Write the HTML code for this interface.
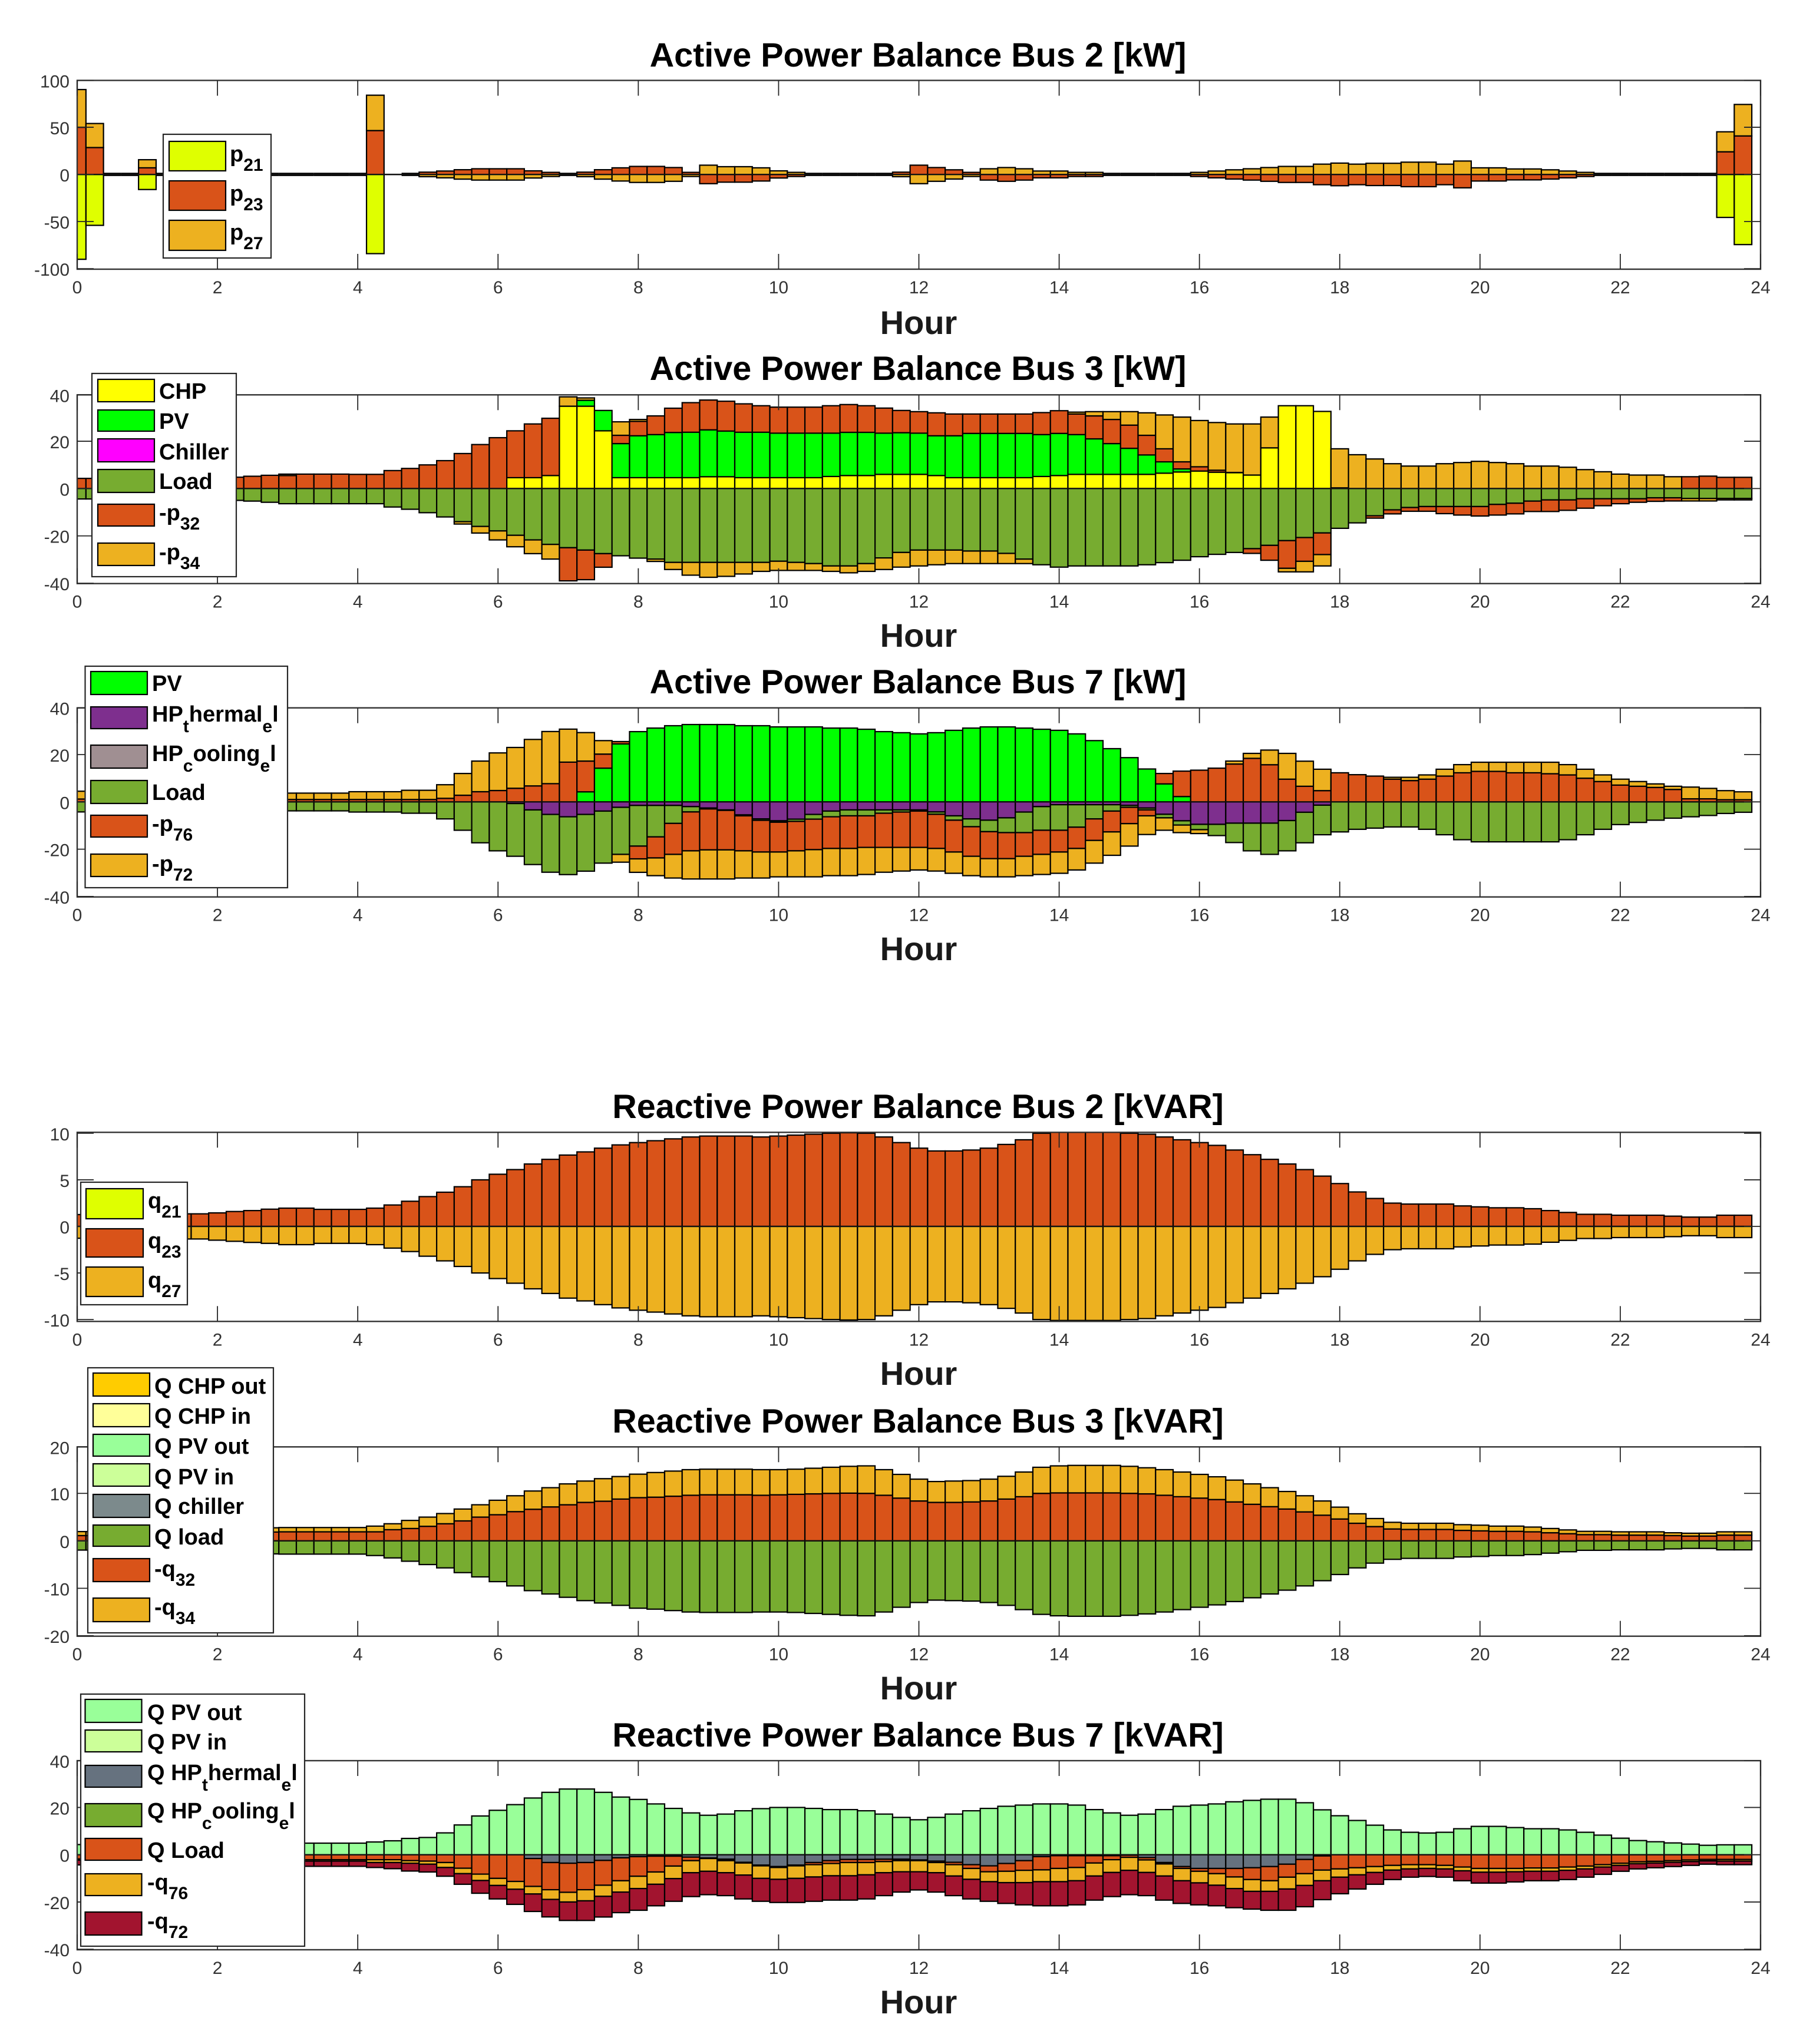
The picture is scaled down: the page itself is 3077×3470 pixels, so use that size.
<!DOCTYPE html>
<html lang="en">
<head>
<meta charset="utf-8">
<title>Power Balance Charts</title>
<style>
html,body{margin:0;padding:0;background:#fff;}
svg{display:block;}
text{font-family:"Liberation Sans",Arial,sans-serif;}
.ttl{font-size:57.5px;font-weight:bold;fill:#000;text-anchor:middle;}
.hour{font-size:56px;font-weight:bold;fill:#1a1a1a;text-anchor:middle;}
.lg{font-size:38px;font-weight:bold;fill:#000;}
.sub{font-size:30px;}
.lgbox{fill:#fff;stroke:#262626;stroke-width:2.2;}
.sw{stroke:#000;stroke-width:2.2;}
</style>
</head>
<body>
<svg id="chart" xmlns="http://www.w3.org/2000/svg" width="3077" height="3470" viewBox="0 0 3077 3470">
<rect x="0" y="0" width="3077" height="3470" fill="#fff"/>
<g id="plots"></g>

<text class="ttl" x="1558" y="113">Active Power Balance Bus 2 [kW]</text>
<text class="ttl" x="1558" y="645">Active Power Balance Bus 3 [kW]</text>
<text class="ttl" x="1558" y="1177">Active Power Balance Bus 7 [kW]</text>
<text class="ttl" x="1558" y="1898">Reactive Power Balance Bus 2 [kVAR]</text>
<text class="ttl" x="1558" y="2432">Reactive Power Balance Bus 3 [kVAR]</text>
<text class="ttl" x="1558" y="2965">Reactive Power Balance Bus 7 [kVAR]</text>

<text class="hour" x="1559" y="567">Hour</text>
<text class="hour" x="1559" y="1098">Hour</text>
<text class="hour" x="1559" y="1630">Hour</text>
<text class="hour" x="1559" y="2351">Hour</text>
<text class="hour" x="1559" y="2885">Hour</text>
<text class="hour" x="1559" y="3418">Hour</text>

<g>
<rect class="lgbox" x="277" y="228" width="183" height="210"/>
<rect class="sw" x="287" y="240" width="96" height="50" fill="#DFFF00"/>
<text class="lg" x="390" y="274">p<tspan class="sub" dy="16">21</tspan></text>
<rect class="sw" x="287" y="307" width="96" height="50" fill="#D95319"/>
<text class="lg" x="390" y="341">p<tspan class="sub" dy="16">23</tspan></text>
<rect class="sw" x="287" y="374" width="96" height="51" fill="#EDB120"/>
<text class="lg" x="390" y="407">p<tspan class="sub" dy="16">27</tspan></text>
</g>

<g>
<rect class="lgbox" x="156" y="634" width="245" height="345"/>
<rect class="sw" x="166" y="644" width="96" height="38" fill="#FFFF00"/>
<text class="lg" x="270" y="677">CHP</text>
<rect class="sw" x="166" y="696" width="96" height="36" fill="#00FF00"/>
<text class="lg" x="270" y="728">PV</text>
<rect class="sw" x="166" y="745" width="96" height="39" fill="#FF00FF"/>
<text class="lg" x="270" y="780">Chiller</text>
<rect class="sw" x="166" y="797" width="96" height="39" fill="#77AC30"/>
<text class="lg" x="270" y="830">Load</text>
<rect class="sw" x="166" y="856" width="96" height="37" fill="#D95319"/>
<text class="lg" x="270" y="883">-p<tspan class="sub" dy="16">32</tspan></text>
<rect class="sw" x="166" y="922" width="96" height="38" fill="#EDB120"/>
<text class="lg" x="270" y="950">-p<tspan class="sub" dy="16">34</tspan></text>
</g>

<g>
<rect class="lgbox" x="144.500" y="1131" width="343.500" height="376"/>
<rect class="sw" x="154" y="1140" width="96" height="39" fill="#00FF00"/>
<text class="lg" x="258" y="1173">PV</text>
<rect class="sw" x="154" y="1200" width="96" height="37" fill="#7E2F8E"/>
<text class="lg" x="258" y="1225">HP<tspan class="sub" dy="18">t</tspan><tspan dy="-18">hermal</tspan><tspan class="sub" dy="18">e</tspan><tspan dy="-18">l</tspan></text>
<rect class="sw" x="154" y="1265" width="96" height="39" fill="#A08F92"/>
<text class="lg" x="258" y="1292">HP<tspan class="sub" dy="18">c</tspan><tspan dy="-18">ooling</tspan><tspan class="sub" dy="18">e</tspan><tspan dy="-18">l</tspan></text>
<rect class="sw" x="154" y="1325" width="96" height="39" fill="#77AC30"/>
<text class="lg" x="258" y="1358">Load</text>
<rect class="sw" x="154" y="1384" width="96" height="37" fill="#D95319"/>
<text class="lg" x="258" y="1411">-p<tspan class="sub" dy="16">76</tspan></text>
<rect class="sw" x="154" y="1450" width="96" height="38" fill="#EDB120"/>
<text class="lg" x="258" y="1479">-p<tspan class="sub" dy="16">72</tspan></text>
</g>

<g>
<rect class="lgbox" x="137" y="2007" width="181" height="208"/>
<rect class="sw" x="146" y="2018" width="97" height="51" fill="#DFFF00"/>
<text class="lg" x="251" y="2051">q<tspan class="sub" dy="16">21</tspan></text>
<rect class="sw" x="146" y="2086" width="97" height="48" fill="#D95319"/>
<text class="lg" x="251" y="2119">q<tspan class="sub" dy="16">23</tspan></text>
<rect class="sw" x="146" y="2151" width="97" height="50" fill="#EDB120"/>
<text class="lg" x="251" y="2186">q<tspan class="sub" dy="16">27</tspan></text>
</g>

<g>
<rect class="lgbox" x="149" y="2322" width="315" height="450"/>
<rect class="sw" x="158" y="2331" width="96" height="39" fill="#FFCC00"/>
<text class="lg" x="262" y="2366">Q CHP out</text>
<rect class="sw" x="158" y="2383" width="96" height="39" fill="#FFFF99"/>
<text class="lg" x="262" y="2417">Q CHP in</text>
<rect class="sw" x="158" y="2435" width="96" height="37" fill="#99FF99"/>
<text class="lg" x="262" y="2468">Q PV out</text>
<rect class="sw" x="158" y="2485" width="96" height="38" fill="#CCFF99"/>
<text class="lg" x="262" y="2520">Q PV in</text>
<rect class="sw" x="158" y="2537" width="96" height="39" fill="#7C8A8C"/>
<text class="lg" x="262" y="2570">Q chiller</text>
<rect class="sw" x="158" y="2589" width="96" height="36" fill="#77AC30"/>
<text class="lg" x="262" y="2622">Q load</text>
<rect class="sw" x="158" y="2646" width="96" height="39" fill="#D95319"/>
<text class="lg" x="262" y="2676">-q<tspan class="sub" dy="16">32</tspan></text>
<rect class="sw" x="158" y="2713" width="96" height="40" fill="#EDB120"/>
<text class="lg" x="262" y="2741">-q<tspan class="sub" dy="16">34</tspan></text>
</g>

<g>
<rect class="lgbox" x="137" y="2876" width="380" height="428"/>
<rect class="sw" x="144.500" y="2885" width="96" height="39" fill="#99FF99"/>
<text class="lg" x="250" y="2920">Q PV out</text>
<rect class="sw" x="144.500" y="2937" width="96" height="37" fill="#CCFF99"/>
<text class="lg" x="250" y="2970">Q PV in</text>
<rect class="sw" x="144.500" y="2997" width="96" height="37" fill="#66727F"/>
<text class="lg" x="250" y="3022">Q HP<tspan class="sub" dy="18">t</tspan><tspan dy="-18">hermal</tspan><tspan class="sub" dy="18">e</tspan><tspan dy="-18">l</tspan></text>
<rect class="sw" x="144.500" y="3062" width="96" height="39" fill="#77AC30"/>
<text class="lg" x="250" y="3087">Q HP<tspan class="sub" dy="18">c</tspan><tspan dy="-18">ooling</tspan><tspan class="sub" dy="18">e</tspan><tspan dy="-18">l</tspan></text>
<rect class="sw" x="144.500" y="3121" width="96" height="37" fill="#D95319"/>
<text class="lg" x="250" y="3154">Q Load</text>
<rect class="sw" x="144.500" y="3181" width="96" height="37" fill="#EDB120"/>
<text class="lg" x="250" y="3208">-q<tspan class="sub" dy="16">76</tspan></text>
<rect class="sw" x="144.500" y="3246" width="96" height="39" fill="#A2142F"/>
<text class="lg" x="250" y="3274">-q<tspan class="sub" dy="16">72</tspan></text>
</g>
</svg>

<script>
/* ---------- categories and tick labels ---------- */
const barHours = [
0,0.25,0.5,0.75,1,1.25,1.5,1.75,2,2.25,2.5,2.75,
3,3.25,3.5,3.75,4,4.25,4.5,4.75,5,5.25,5.5,5.75,
6,6.25,6.5,6.75,7,7.25,7.5,7.75,8,8.25,8.5,8.75,
9,9.25,9.5,9.75,10,10.25,10.5,10.75,11,11.25,11.5,11.75,
12,12.25,12.5,12.75,13,13.25,13.5,13.75,14,14.25,14.5,14.75,
15,15.25,15.5,15.75,16,16.25,16.5,16.75,17,17.25,17.5,17.75,
18,18.25,18.5,18.75,19,19.25,19.5,19.75,20,20.25,20.5,20.75,
21,21.25,21.5,21.75,22,22.25,22.5,22.75,23,23.25,23.5,23.75];
const xTickLabels = [0,2,4,6,8,10,12,14,16,18,20,22,24];
const yTicksActive2 = [100,50,0,-50,-100];
const yTicksActive3 = [40,20,0,-20,-40];
const yTicksActive7 = [40,20,0,-20,-40];
const yTicksReactive2 = [10,5,0,-5,-10];
const yTicksReactive3 = [20,10,0,-10,-20];
const yTicksReactive7 = [40,20,0,-20,-40];
const zeroSeries = [];
for (let k = 0; k < barHours.length; k++) zeroSeries.push(0);

/* ---------- Active Power Balance Bus 2 ---------- */
const p21 = [
-90,-54,0,0,-16,0,0,0,0,0,0,0,
0,0,0,0,0,-84,0,0,0,0,0,0,
0,0,0,0,0,0,0,0,0,0,0,0,
0,0,0,0,0,0,0,0,0,0,0,0,
0,0,0,0,0,0,0,0,0,0,0,0,
0,0,0,0,0,0,0,0,0,0,0,0,
0,0,0,0,0,0,0,0,0,0,0,0,
0,0,0,0,0,0,0,0,0,0,-45.6,-74.4];
const p23 = [
50,28.5,0,0,7,0,0,0,0,0,0,0,
0,0,0,0,0,46.5,0.05,0,2.4,3.6,5,6,
6,6,3.8,2.2,0,2.4,5,7,8.5,8.5,7.3,2.2,
-9.8,-8.2,-8.2,-7,-3.8,-2.2,0,0,0,0,0,2.4,
9.8,7.3,4.9,2.2,-6,-7.3,-6,-3.6,-3.6,-2.2,-2.2,0,
0,0,0,0,-2.2,-3.6,-4.9,-6,-7.3,-8.5,-8.5,-10.9,
-12,-10.9,-11.8,-11.8,-13,-13,-10.9,-14.2,-7,-7,-5.8,-5.8,
-4.9,-3.6,-2.2,0,0,0,0,0,0,0,24,40.8];
const p27 = [
40,25.5,0,0,8.6,0,0,0,0,0,0,0,
0,0,0,0,0,37.5,-0.05,0,-2.4,-3.6,-5,-6,
-6,-6,-3.8,-2.2,0,-2.4,-5,-7,-8.5,-8.5,-7.3,-2.2,
9.8,8.2,8.2,7,3.8,2.2,0,0,0,0,0,-2.4,
-9.8,-7.3,-4.9,-2.2,6,7.3,6,3.6,3.6,2.2,2.2,0,
0,0,0,0,2.2,3.6,4.9,6,7.3,8.5,8.5,10.9,
12,10.9,11.8,11.8,13,13,10.9,14.2,7,7,5.8,5.8,
4.9,3.6,2.2,0,0,0,0,0,0,0,21.2,33.4];

/* ---------- Active Power Balance Bus 3 ---------- */
const chp3 = [
0,0,0,0,0,0,0,0,0,0,0,0,
0,0,0,0,0,0,0,0,0,0,0,0,
0,4.6,4.6,5.5,34.8,34.8,24.4,4.6,4.6,4.6,4.6,4.6,
5,5,4.6,4.6,4.6,4.6,4.6,5.1,5.5,5.5,6,6,
6,5.5,4.6,4.6,4.6,4.6,4.6,5.1,5.5,6,6,6,
6,6,6.5,7,7.4,6.9,6.7,5.7,17.2,35,35,32.6,
0.3,0,0,0,0,0,0,0,0,0,0,0,
0,0,0,0,0,0,0,0,0,0,0,0];
const pv3 = [
0,0,0,0,0,0,0,0,0,0,0,0,
0,0,0,0,0,0,0,0,0,0,0,0,
0,0,0,0,0,2.5,8.6,14.4,17.7,18.2,19.1,19.2,
19.8,19.3,19.2,19.2,18.8,18.8,18.8,18.3,18.25,18.25,17.4,17.6,
17.4,16.8,17.7,18.7,18.7,18.7,18.7,17.7,17.8,16.8,15,13,
11,8.2,4.8,1.3,0,0,0,0,0,0,0,0,
0,0,0,0,0,0,0,0,0,0,0,0,
0,0,0,0,0,0,0,0,0,0,0,0];
const load3 = [
-4.4,-4.4,-4.4,-4.3,-4.2,-4.2,-4.2,-4.3,-4.5,-5,-5.3,-5.8,
-6.4,-6.4,-6.4,-6.4,-6.4,-6.4,-7.8,-8.75,-10.2,-12,-14,-16,
-17.9,-19.75,-21.7,-23.6,-25,-26,-27.5,-28.4,-29.4,-29.8,-31.2,-31.2,
-31.2,-31.2,-31.2,-31.2,-30.7,-31.2,-31.7,-32.7,-32.7,-31.7,-29.3,-27,
-26,-26,-26,-26.4,-26.4,-27.4,-29.8,-32.2,-33.2,-32.7,-32.7,-32.7,
-32.7,-32.2,-31.3,-30.3,-28.8,-27.8,-27,-25.4,-24,-22,-20.7,-18.75,
-16.8,-14.5,-11.5,-9,-8,-7.6,-7.6,-7.6,-7.6,-6.7,-6.2,-5.3,
-4.8,-4.8,-4.3,-4.3,-4.3,-4.3,-3.9,-3.9,-4.2,-4.2,-4.2,-4.2];
const minusP32 = [
4.3,4.3,4.3,4.2,4.2,4.1,4,4,4.2,4.8,5.2,5.6,
5.5,6.1,6.1,6.1,6,6,7.6,8.5,10,11.8,14.8,18.6,
21.5,19.8,22.7,24.2,-14,-12.5,-5.75,3.5,6.1,7.9,10.25,12.5,
12.6,12.6,12,11.2,11,11,11,11.6,11.75,11.25,10.6,9.4,
9.1,9.7,9.2,8.2,8.2,8.2,8.2,9.3,9.6,8.7,9.7,10.2,
9.8,8.3,5.5,3,1.8,0.85,0.1,-2,-6.3,-11.7,-10.05,-9.15,
0,0,-1,-1.7,-1.6,-2,-3,-3.6,-4,-4.5,-4.5,-4.4,
-4.9,-4.4,-4,-2.95,-2.1,-1.5,-1.5,-1.35,5,5.25,4.75,4.75];
const minusP34 = [
0,0,0,0,0,0,0,0,0,0,0,0,
0.6,0,0,0,0,0,0,0,0,0,-1,-2.8,
-3.8,-4.85,-5.8,-6.2,3.95,1,0,5.7,0.8,-1,-3,-5.4,
-6.3,-5.9,-4.9,-3.8,-3.9,-3.4,-2.9,-2.3,-2.9,-3.3,-4.9,-6.2,
-6.7,-6.2,-5.7,-5.3,-5.3,-4.3,-1.9,0,0,0.8,1.8,3.3,
5.7,9.5,14.3,18.9,19.55,20.15,20.5,21.6,13,-1.5,-4.45,-4.8,
16.5,14.3,12.5,10.5,9.5,9.5,10.5,11,11.5,11,10.5,9.5,
9.5,9,8,7.1,6.1,5.7,5.7,5,-1.05,-1.05,-0.6,-0.6];

/* ---------- Active Power Balance Bus 7 ---------- */
const pv7 = [
0,0,0,0,0,0,0,0,0,0,0,0,
0,0,0,0,0,0,0,0,0,0,0,0,
0,0,0,0,0,4.25,14.25,24.5,29.7,31.2,32.2,32.7,
32.7,32.7,32.2,32.2,31.7,31.7,31.7,31.2,31.2,30.7,29.7,29.25,
28.75,29.25,30.25,31.2,31.7,31.7,31.2,30.7,30.25,28.75,25.9,22.5,
18.7,13.9,7.6,2.25,0,0,0,0,0,0,0,0,
0,0,0,0,0,0,0,0,0,0,0,0,
0,0,0,0,0,0,0,0,0,0,0,0];
const hpThermal7 = [
0,0,0,0,0,0,0,0,0,0,0,0,
0,0,0,0,0,0,0,0,0,0,0,0,
0,-0.7,-3.4,-5.3,-6.3,-5.3,-3.9,-2.3,-1.5,-1.5,-1.5,-2,
-2.6,-3.4,-5.5,-7.2,-8,-7.3,-5.3,-3.9,-3.4,-3.4,-3.4,-3.4,
-3.4,-4.25,-5.9,-7.2,-7.75,-6.75,-4.3,-2,-1.2,-1.2,-1.2,-1.2,
-1.5,-2.6,-5.25,-8,-9.5,-9.5,-9,-9,-9,-7.9,-4.4,-1.4,
0,0,0,0,0,0,0,0,0,0,0,0,
0,0,0,0,0,0,0,0,0,0,0,0];
const load7 = [
-4.25,-4.25,-4.2,-4.1,-4,-4,-3.9,-3.9,-3.8,-3.8,-3.8,-3.8,
-3.8,-3.8,-3.8,-3.8,-4.3,-4.3,-4.3,-4.8,-4.8,-7.2,-12,-17.3,
-20.7,-22.3,-23.1,-24.45,-24.45,-24,-22,-19.9,-17.2,-13.3,-7.6,-2.25,
-0.4,-0.2,-0.4,-0.6,-0.6,-0.95,-2,-2.4,-2.5,-2.5,-1.4,-0.9,
-0.5,-1,-1.85,-3.3,-4.85,-6.25,-8.7,-10,-10.8,-9.5,-6,-2.7,
-0.8,-0.8,-1.5,-1.8,-2.25,-4.75,-8.2,-11.7,-13.2,-12.8,-12.9,-12.5,
-12.7,-11.6,-11.1,-10.6,-10.6,-11.6,-13.9,-16,-16.9,-16.9,-16.9,-16.9,
-16.9,-16,-13.9,-11.6,-9.6,-8.7,-7.75,-6.9,-6.3,-5.75,-4.9,-4.4];
const minusP76 = [
1.2,1.2,1.2,1.1,1,1,1,1,1,1,1,1,
1,1,1,1,1,1,1,1,1,1.5,2.8,4.3,
4.8,5.75,6.75,7.7,16.8,13,5.95,1,-5.4,-8.9,-13.1,-16.45,
-17.3,-16.7,-14.8,-13.4,-12.6,-12.45,-12.9,-13.4,-13.8,-13.35,-14.45,-14.95,
-15.35,-14.45,-13.45,-12.5,-11.4,-11,-10,-10.2,-9.2,-9,-9.1,-8.8,
-6.9,-2.5,4.4,10.75,13.4,14.25,16,18.4,15.7,9.6,6.6,4.75,
12.3,11.5,10.9,9.6,9,9.6,10.9,12.3,12.9,12.9,12.3,12.3,
11.9,11.4,10,8.6,7.1,6.6,6.1,5.25,1.3,1.3,0.9,0.9];
const minusP72 = [
3.3,3.3,3.2,3,2.8,2.7,2.7,2.7,2.7,2.7,2.7,2.7,
2.7,2.7,2.7,2.7,3.3,3.3,3.3,3.9,3.9,5.75,9.2,12.95,
15.9,17.25,19.65,22.05,13.95,12.05,5.7,-3.3,-5.7,-7.5,-10,-11.9,
-12.3,-12.3,-11.5,-11,-10.5,-11,-11.5,-11.5,-11.5,-11.45,-10.5,-10,
-9.55,-9.55,-9,-8.2,-7.7,-7.7,-8.2,-8.5,-9,-9.1,-9.6,-9.9,
-9.5,-7.9,-5.25,-3.2,-1.65,0,1.25,2.1,6.2,10.9,10.6,9.05,
0,0,0,0.8,1.4,1.8,2.9,3.45,3.85,3.85,4.45,4.45,
4.85,4.35,3.8,2.8,2.5,2,1.5,1.35,4.95,4.4,3.85,3.35];

/* ---------- Reactive Power Balance Bus 2 ---------- */
const q23 = [
1.27,1.27,1.3,1.3,1.3,1.3,1.35,1.35,1.45,1.6,1.7,1.85,
1.96,1.96,1.83,1.83,1.83,1.96,2.3,2.7,3.2,3.67,4.26,5,
5.6,6.1,6.7,7.2,7.66,8,8.4,8.75,9,9.2,9.4,9.6,
9.7,9.7,9.7,9.6,9.7,9.8,9.9,10,10.05,10,9.6,9,
8.4,8.1,8.1,8.2,8.4,8.8,9.3,10,10.1,10.1,10.1,10.1,
10,9.9,9.6,9.3,9,8.7,8.2,7.7,7.2,6.7,6.1,5.4,
4.6,3.7,3,2.5,2.4,2.4,2.4,2.2,2.1,2,2,1.9,
1.7,1.5,1.3,1.3,1.2,1.2,1.2,1.1,1,1,1.2,1.2];
const q27 = [
-1.27,-1.27,-1.3,-1.3,-1.3,-1.3,-1.35,-1.35,-1.48,-1.6,-1.72,-1.82,
-1.96,-1.96,-1.82,-1.82,-1.82,-1.96,-2.33,-2.7,-3.2,-3.7,-4.3,-5,
-5.6,-6.1,-6.7,-7.2,-7.7,-8,-8.4,-8.75,-9,-9.2,-9.4,-9.6,
-9.7,-9.7,-9.7,-9.6,-9.7,-9.8,-9.9,-10,-10.05,-10,-9.6,-9,
-8.4,-8.1,-8.1,-8.2,-8.4,-8.8,-9.3,-10,-10.1,-10.1,-10.1,-10.1,
-10,-9.9,-9.6,-9.3,-9,-8.7,-8.2,-7.7,-7.2,-6.7,-6.1,-5.4,
-4.6,-3.7,-3,-2.5,-2.4,-2.4,-2.4,-2.2,-2.1,-2,-2,-1.9,
-1.7,-1.5,-1.3,-1.3,-1.2,-1.2,-1.2,-1.1,-1,-1,-1.2,-1.2];

/* ---------- Reactive Power Balance Bus 3 ---------- */
const qLoad3 = [
-1.95,-1.95,-2.2,-2.2,-2.2,-2.2,-2.25,-2.25,-2.35,-2.5,-2.6,-2.75,
-2.8,-2.8,-2.8,-2.8,-2.8,-3.1,-3.6,-4.3,-5,-5.7,-6.7,-7.6,
-8.6,-9.5,-10.5,-11.2,-11.9,-12.6,-13.1,-13.6,-14.2,-14.4,-14.7,-15,
-15.1,-15.1,-15.1,-15,-15,-15.1,-15.3,-15.5,-15.7,-15.8,-15,-14,
-13,-12.5,-12.6,-12.7,-13,-13.6,-14.5,-15.5,-15.8,-15.9,-15.9,-15.9,
-15.7,-15.4,-15,-14.5,-14,-13.5,-12.8,-12,-11.2,-10.4,-9.5,-8.4,
-7.1,-5.7,-4.7,-3.9,-3.7,-3.7,-3.7,-3.4,-3.3,-3.1,-3.1,-2.9,
-2.6,-2.3,-2,-2,-1.9,-1.9,-1.9,-1.7,-1.6,-1.6,-1.9,-1.9];
const minusQ32 = [
1.1,1.1,1.3,1.3,1.3,1.3,1.35,1.35,1.45,1.6,1.7,1.85,
1.9,1.9,1.9,1.9,1.9,1.9,2.35,2.6,3.06,3.6,4.2,5,
5.5,6.15,6.65,7.15,7.6,8.1,8.35,8.8,9.1,9.2,9.4,9.6,
9.7,9.7,9.7,9.6,9.7,9.8,9.9,10,10.05,10,9.6,9,
8.4,8.1,8.1,8.2,8.4,8.8,9.3,10,10.1,10.1,10.1,10.1,
10,9.9,9.6,9.3,9,8.7,8.2,7.7,7.2,6.7,6.1,5.4,
4.6,3.7,3,2.5,2.4,2.4,2.4,2.2,2.1,2,2,1.9,
1.7,1.5,1.3,1.3,1.2,1.2,1.2,1.1,1,1,1.2,1.2];
const minusQ34 = [
0.85,0.85,0.9,0.9,0.9,0.9,0.9,0.9,0.9,0.9,0.9,0.9,
0.9,0.9,0.9,0.9,0.9,1.2,1.25,1.7,1.94,2.15,2.5,2.6,
3.05,3.35,3.85,4.05,4.4,4.5,4.75,4.75,4.95,5.2,5.3,5.4,
5.4,5.4,5.4,5.4,5.3,5.3,5.4,5.5,5.65,5.8,5.4,5,
4.6,4.4,4.5,4.5,4.6,4.8,5.2,5.5,5.7,5.8,5.8,5.8,
5.7,5.5,5.4,5.2,5,4.8,4.6,4.3,4,3.7,3.4,3,
2.5,2,1.7,1.4,1.3,1.3,1.3,1.2,1.2,1.1,1.1,1,
0.9,0.8,0.7,0.7,0.7,0.7,0.7,0.6,0.6,0.6,0.7,0.7];

/* ---------- Reactive Power Balance Bus 7 ---------- */
const qPvOut7 = [
4.3,4.3,4.4,4.5,4.6,4.7,4.7,4.8,4.8,4.9,4.9,4.9,
4.9,4.9,4.9,4.9,4.9,5.4,5.9,6.9,7.3,9.25,12.6,16.4,
18.8,21.2,24,26.4,27.8,27.8,26.4,24.4,23.4,21.5,19.6,17.7,
16.7,17.2,18.6,19.5,20,20,19.6,19.1,19.1,18.6,17.2,15.8,
14.8,15.8,17.2,18.6,19.6,20.5,21,21.5,21.5,21,19.1,17.7,
16.7,17.2,19.1,20.5,21,21.5,22.4,23,23.5,23.5,22,19,
16.5,14.5,12.5,10.5,9.5,9.2,9.5,11,12,12,11.5,11,
11,10.5,9.5,8.3,7,6,5.5,5,4.5,4,4.2,4.2];
const qHpThermal7 = [
0,0,0,0,0,0,0,0,0,0,0,0,
0,0,0,0,0,0,0,0,0,0,0,0,
0,0,-1.6,-3.3,-3.6,-3.3,-2.4,-1.3,-0.8,-0.6,-0.6,-1,
-1.4,-1.9,-3.2,-4.4,-5,-4.4,-3.3,-2.5,-2,-2,-1.9,-1.9,
-2.2,-2.7,-3.2,-4.2,-4.7,-3.7,-2.5,-0.8,-0.4,-0.4,-0.4,-0.4,
-0.2,-1.2,-3.3,-5,-5.8,-5.8,-5.8,-5.5,-5,-4,-2,-0.5,
0,0,0,0,0,0,0,0,0,0,0,0,
0,0,0,0,0,0,0,0,0,0,0,0];
const qLoad7 = [
-1.8,-1.8,-1.85,-1.9,-1.9,-2,-2,-2,-2.1,-2.1,-2.1,-2.1,
-2.1,-2.1,-2.1,-2.1,-2.1,-2.1,-2.1,-2.5,-2.7,-3.3,-5.7,-8.2,
-10,-11.3,-11.8,-11.5,-12.3,-11.5,-10.5,-9.7,-8.3,-6.7,-4.2,-1.5,
-0.2,-0.6,-0.3,-0.3,-0.4,-0.3,-0.9,-1.2,-1.3,-1.3,-1,-0.6,
-0.3,-0.6,-1,-1.6,-2.5,-3.3,-4.1,-5.6,-5.4,-5,-3.1,-1.7,
-0.9,-1,-0.6,-0.8,-1.2,-2.2,-3.6,-5,-6,-5.5,-6,-6,
-6,-5.5,-5,-4.5,-4.2,-4.2,-4.5,-5.2,-5.8,-5.8,-5.8,-5.6,
-5.6,-5.2,-4.8,-4.2,-3.6,-3,-2.8,-2.5,-2.2,-2,-2,-2];
const minusQ76 = [
-0.5,-0.5,-0.5,-0.5,-0.5,-0.5,-0.5,-0.5,-0.5,-0.5,-0.5,-0.5,
-0.6,-0.6,-0.6,-0.6,-0.6,-1.2,-1.2,-1.1,-1.3,-2.1,-2.3,-2.7,
-3,-3.3,-3.2,-4.1,-4.1,-4.7,-4.7,-4.8,-5.2,-5.2,-5.3,-5.1,
-5.4,-5.1,-5.1,-5.3,-5,-5.3,-5.2,-5.2,-5.6,-5.2,-4.7,-4.7,
-4.7,-4.3,-4.8,-4.6,-4.2,-4.8,-5.2,-5,-5.6,-5.6,-5.5,-5.4,
-5.5,-5.3,-5.1,-5.2,-4.9,-4.9,-4.9,-5,-4.5,-5,-5,-4.5,
-3.5,-3,-2.5,-2,-1.8,-1.6,-1.5,-1.6,-1.6,-1.6,-1.4,-1.4,
-1.4,-1.4,-1.2,-1,-0.9,-0.8,-0.7,-0.7,-0.7,-0.6,-0.7,-0.7];
const minusQ72 = [
-2,-2,-2,-2,-2,-2,-2,-2,-2,-2,-2,-2,
-2.2,-2.2,-2.2,-2.2,-2.2,-2.1,-2.6,-3.3,-3.3,-3.7,-4.5,-5.4,
-5.7,-6.4,-7.4,-7.4,-7.8,-8.3,-8.75,-8.7,-9.2,-9.1,-9.6,-10.1,
-9.9,-9.7,-10.1,-9.7,-9.8,-10.2,-10.3,-10.3,-10.3,-10.2,-9.7,-8.6,
-7.7,-8.2,-8.3,-8.3,-8.3,-8.8,-9.4,-10.2,-10.2,-10.2,-10.2,-10.2,
-10.3,-9.8,-10.2,-9.6,-9.3,-8.7,-8.1,-7.5,-8,-9,-9,-8,
-7,-6,-5,-4,-3.5,-3.4,-3.5,-4.2,-4.6,-4.6,-4.3,-4,
-4,-3.9,-3.5,-3.1,-2.5,-2.2,-2,-1.8,-1.6,-1.4,-1.5,-1.5];

/* ---------- drawing ---------- */
const NS = 'http://www.w3.org/2000/svg';
const COLORS = {lime:'#DFFF00',red:'#D95319',orange:'#EDB120',yellow:'#FFFF00',green:'#00FF00',magenta:'#FF00FF',
  load:'#77AC30',purple:'#7E2F8E',gray:'#A08F92',chpOut:'#FFCC00',chpIn:'#FFFF99',pvOut:'#99FF99',pvIn:'#CCFF99',
  chiller:'#7C8A8C',thermal:'#66727F',maroon:'#A2142F'};
const plotLeft = 131, plotRight = 2988, hourMax = 24, barWidthHours = 0.25;
const xScale = h => plotLeft + (h / hourMax) * (plotRight - plotLeft);

const panels = [
 {key:'active-bus-2', top:136.5, bottom:457, yMin:-100.5, yMax:99.7, yTicks:yTicksActive2, thickZero:true,
  series:[['p21',p21,COLORS.lime],['p23',p23,COLORS.red],['p27',p27,COLORS.orange]]},
 {key:'active-bus-3', top:670.3, bottom:990.7, yMin:-40.15, yMax:39.6, yTicks:yTicksActive3,
  series:[['chp',chp3,COLORS.yellow],['pv',pv3,COLORS.green],['chiller',zeroSeries,COLORS.magenta],['load',load3,COLORS.load],['minus-p32',minusP32,COLORS.red],['minus-p34',minusP34,COLORS.orange]]},
 {key:'active-bus-7', top:1201.7, bottom:1522.7, yMin:-40.2, yMax:39.75, yTicks:yTicksActive7,
  series:[['pv',pv7,COLORS.green],['hp-thermal',hpThermal7,COLORS.purple],['hp-cooling',zeroSeries,COLORS.gray],['load',load7,COLORS.load],['minus-p76',minusP76,COLORS.red],['minus-p72',minusP72,COLORS.orange]]},
 {key:'reactive-bus-2', top:1922.3, bottom:2243.3, yMin:-10.2, yMax:10.1, yTicks:yTicksReactive2,
  series:[['q21',zeroSeries,COLORS.lime],['q23',q23,COLORS.red],['q27',q27,COLORS.orange]]},
 {key:'reactive-bus-3', top:2456.3, bottom:2777.7, yMin:-20.1, yMax:19.8, yTicks:yTicksReactive3,
  series:[['q-chp-out',zeroSeries,COLORS.chpOut],['q-chp-in',zeroSeries,COLORS.chpIn],['q-pv-out',zeroSeries,COLORS.pvOut],['q-pv-in',zeroSeries,COLORS.pvIn],['q-chiller',zeroSeries,COLORS.chiller],['q-load',qLoad3,COLORS.load],['minus-q32',minusQ32,COLORS.red],['minus-q34',minusQ34,COLORS.orange]]},
 {key:'reactive-bus-7', top:2989, bottom:3310, yMin:-40.2, yMax:39.8, yTicks:yTicksReactive7,
  series:[['q-pv-out',qPvOut7,COLORS.pvOut],['q-pv-in',zeroSeries,COLORS.pvIn],['q-hp-thermal',qHpThermal7,COLORS.thermal],['q-hp-cooling',zeroSeries,COLORS.load],['q-load',qLoad7,COLORS.red],['minus-q76',minusQ76,COLORS.orange],['minus-q72',minusQ72,COLORS.maroon]]}
];

function setAll(el, props) {
  for (const k in props) el.setAttribute(k, props[k]);
}

const plotsRoot = document.getElementById('plots');
const defs = document.createElementNS(NS, 'defs');
plotsRoot.appendChild(defs);

panels.forEach(function (panel, pi) {
  const yScale = v => panel.top + (panel.yMax - v) / (panel.yMax - panel.yMin) * (panel.bottom - panel.top);
  const clipId = 'clip-' + pi;
  const clip = document.createElementNS(NS, 'clipPath');
  clip.setAttribute('id', clipId);
  const clipRect = document.createElementNS(NS, 'rect');
  setAll(clipRect, {x: plotLeft, y: panel.top, width: plotRight - plotLeft, height: panel.bottom - panel.top});
  clip.appendChild(clipRect);
  defs.appendChild(clip);

  const group = document.createElementNS(NS, 'g');
  
  
  plotsRoot.appendChild(group);

  const barsG = document.createElementNS(NS, 'g');
  
  
  barsG.setAttribute('clip-path', 'url(#' + clipId + ')');
  group.appendChild(barsG);

  barHours.forEach(function (hour, i) {
    let posTop = 0, negTop = 0, anyValue = false;
    const x0 = xScale(hour - barWidthHours / 2);
    const x1 = xScale(hour + barWidthHours / 2);
    panel.series.forEach(function (s) {
      const v = s[1][i] || 0;
      if (v === 0) return;
      anyValue = true;
      let from, to;
      if (v > 0) { from = posTop; to = posTop + v; posTop = to; }
      else { from = negTop; to = negTop + v; negTop = to; }
      const yA = yScale(Math.max(from, to));
      const yB = yScale(Math.min(from, to));
      const bar = document.createElementNS(NS, 'rect');
      
      
      setAll(bar, {x: x0, y: yA, width: x1 - x0, height: yB - yA, fill: s[2], stroke: '#000', 'stroke-width': 2.2});
      barsG.appendChild(bar);
    });
    if (!anyValue && panel.thickZero) {
      const flat = document.createElementNS(NS, 'line');
      
      
      setAll(flat, {x1: x0, x2: x1, y1: yScale(0), y2: yScale(0), stroke: '#000', 'stroke-width': 5.6});
      barsG.appendChild(flat);
    }
  });

  const zeroLine = document.createElementNS(NS, 'line');
  
  
  setAll(zeroLine, {x1: plotLeft, x2: xScale(barHours[barHours.length - 1] + barWidthHours / 2), y1: yScale(0), y2: yScale(0), stroke: '#111', 'stroke-width': 2.2});
  barsG.appendChild(zeroLine);

  const frame = document.createElementNS(NS, 'rect');
  
  
  setAll(frame, {x: plotLeft, y: panel.top, width: plotRight - plotLeft, height: panel.bottom - panel.top, fill: 'none', stroke: '#333', 'stroke-width': 2.4});
  group.appendChild(frame);

  xTickLabels.forEach(function (tick) {
    const x = xScale(tick);
    [[panel.bottom, panel.bottom - 26], [panel.top, panel.top + 26]].forEach(function (pair) {
      const mark = document.createElementNS(NS, 'line');
      
      
      setAll(mark, {x1: x, x2: x, y1: pair[0], y2: pair[1], stroke: '#262626', 'stroke-width': 1.8});
      group.appendChild(mark);
    });
    const label = document.createElementNS(NS, 'text');
    
    
    setAll(label, {x: x, y: panel.bottom + 41, 'text-anchor': 'middle', 'font-size': 30, fill: '#333'});
    label.textContent = String(tick);
    group.appendChild(label);
  });

  panel.yTicks.forEach(function (tick) {
    const y = Math.min(panel.bottom, Math.max(panel.top, yScale(tick)));
    [[plotLeft, plotLeft + 28], [plotRight, plotRight - 28]].forEach(function (pair) {
      const mark = document.createElementNS(NS, 'line');
      
      
      setAll(mark, {x1: pair[0], x2: pair[1], y1: y, y2: y, stroke: '#262626', 'stroke-width': 1.8});
      group.appendChild(mark);
    });
    const label = document.createElementNS(NS, 'text');
    
    
    setAll(label, {x: 118, y: y + 12, 'text-anchor': 'end', 'font-size': 30, fill: '#333'});
    label.textContent = String(tick);
    group.appendChild(label);
  });
});
</script>
</body>
</html>
